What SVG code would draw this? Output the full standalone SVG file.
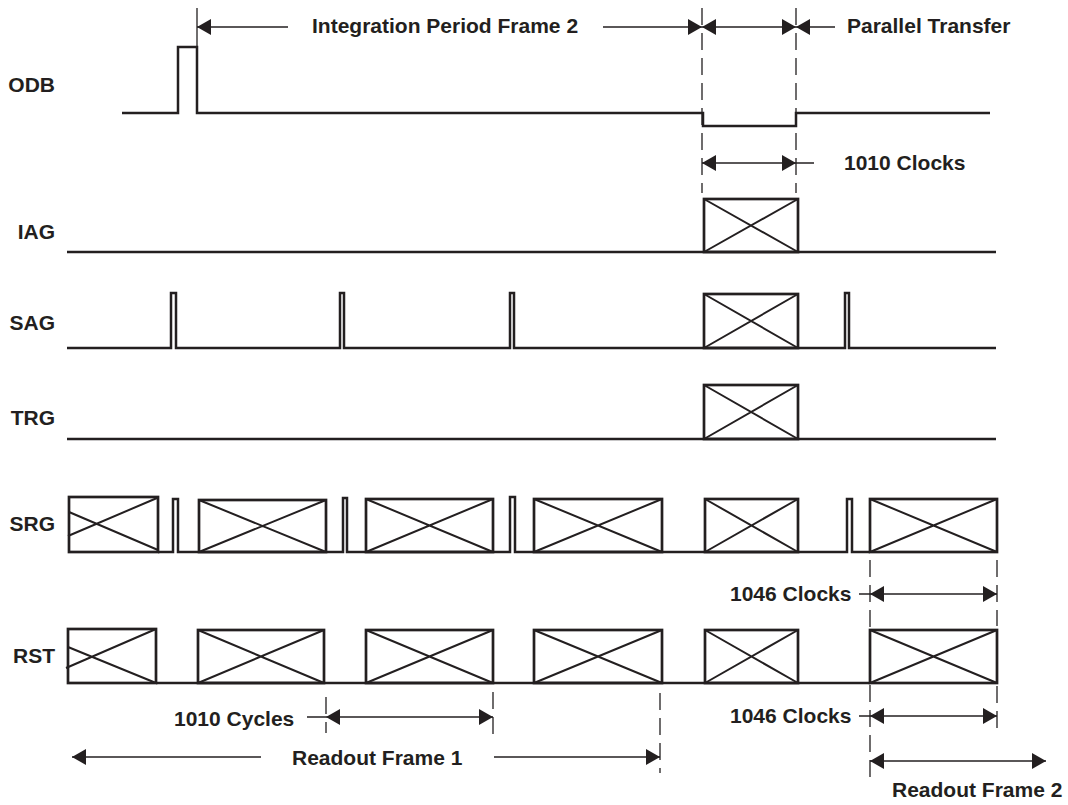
<svg xmlns="http://www.w3.org/2000/svg" xmlns:xlink="http://www.w3.org/1999/xlink" width="1068" height="805" viewBox="0 0 1068 805">
<style>
  .bg{fill:#ffffff}
  .sig{fill:none;stroke:#231f20;stroke-width:2.5;stroke-linejoin:miter}
  .box{fill:none;stroke:#231f20;stroke-width:2.7}
  .x{fill:none;stroke:#231f20;stroke-width:2}
  .dim{fill:none;stroke:#231f20;stroke-width:1.3}
  .dash{fill:none;stroke:#231f20;stroke-width:1.3;stroke-dasharray:17 8}
  .lbl{font-family:"Liberation Sans",Arial,sans-serif;font-weight:bold;font-size:21px;fill:#231f20}
  .ah{fill:#231f20}
</style>
<defs>
  <path id="ar" d="M0,0 L-14,-8 L-14,8 Z"/>
  <path id="al" d="M0,0 L14,-8 L14,8 Z"/>
</defs>
<rect class="bg" x="0" y="0" width="1068" height="805"/>

<g id="connectors">
  <!-- top dimension -->
  <line class="dim" x1="197" y1="8" x2="197" y2="47"/>
  <line class="dash" x1="702" y1="8" x2="702" y2="193"/>
  <line class="dash" x1="796" y1="8" x2="796" y2="193"/>
  <line class="dim" x1="197" y1="27" x2="288" y2="27"/>
  <line class="dim" x1="603" y1="27" x2="835" y2="27"/>
  <use href="#al" class="ah" x="197" y="27"/>
  <use href="#ar" class="ah" x="702" y="27"/>
  <use href="#al" class="ah" x="702" y="27"/>
  <use href="#ar" class="ah" x="796" y="27"/>
  <use href="#al" class="ah" x="796" y="27"/>
  <!-- 1010 clocks -->
  <line class="dim" x1="702" y1="163" x2="814" y2="163"/>
  <use href="#al" class="ah" x="702" y="163"/>
  <use href="#ar" class="ah" x="796" y="163"/>
  <!-- 1046 clocks -->
  <line class="dash" x1="870" y1="560" x2="870" y2="782"/>
  <line class="dash" x1="997" y1="560" x2="997" y2="626"/>
  <line class="dash" x1="997" y1="686" x2="997" y2="733"/>
  <line class="dim" x1="859" y1="594" x2="997" y2="594"/>
  <use href="#al" class="ah" x="870" y="594"/>
  <use href="#ar" class="ah" x="997" y="594"/>
  <line class="dim" x1="859" y1="716" x2="997" y2="716"/>
  <use href="#al" class="ah" x="870" y="716"/>
  <use href="#ar" class="ah" x="997" y="716"/>
  <!-- Readout frame 2 -->
  <line class="dim" x1="870" y1="761" x2="1046" y2="761"/>
  <use href="#al" class="ah" x="870" y="761"/>
  <use href="#ar" class="ah" x="1046" y="761"/>
  <!-- 1010 cycles -->
  <line class="dash" x1="326" y1="697" x2="326" y2="733"/>
  <line class="dash" x1="493" y1="692" x2="493" y2="734"/>
  <line class="dim" x1="307" y1="717" x2="493" y2="717"/>
  <use href="#al" class="ah" x="326" y="717"/>
  <use href="#ar" class="ah" x="493" y="717"/>
  <!-- Readout frame 1 -->
  <line class="dash" x1="660" y1="693" x2="660" y2="773"/>
  <line class="dim" x1="72" y1="757" x2="261" y2="757"/>
  <line class="dim" x1="494" y1="757" x2="660" y2="757"/>
  <use href="#al" class="ah" x="72" y="757"/>
  <use href="#ar" class="ah" x="660" y="757"/>
</g>

<g id="annotations">
  <text class="lbl" x="312" y="33">Integration Period Frame 2</text>
  <text class="lbl" x="847" y="33">Parallel Transfer</text>
  <text class="lbl" x="844" y="170">1010 Clocks</text>
  <text class="lbl" x="730" y="601">1046 Clocks</text>
  <text class="lbl" x="730" y="723">1046 Clocks</text>
  <text class="lbl" x="174" y="726">1010 Cycles</text>
  <text class="lbl" x="292" y="765">Readout Frame 1</text>
  <text class="lbl" x="892" y="797">Readout Frame 2</text>
</g>

<g id="ODB">
  <text class="lbl" x="55" y="92" text-anchor="end">ODB</text>
  <path class="sig" d="M122,113 H178 V47 H197 V113 H703 V126 H796 V113 H990"/>
</g>

<g id="IAG">
  <text class="lbl" x="55" y="239" text-anchor="end">IAG</text>
  <path class="sig" d="M67,252 H996"/>
  <rect class="box" x="704" y="199" width="94" height="53"/>
  <path class="x" d="M704,199 L798,252 M704,252 L798,199"/>
</g>

<g id="SAG">
  <text class="lbl" x="55" y="330" text-anchor="end">SAG</text>
  <path class="sig" d="M67,348 H171 V293 H176 V348 H340 V293 H344 V348 H510 V293 H514 V348 H845 V293 H849 V348 H996"/>
  <rect class="box" x="704" y="294" width="94" height="54"/>
  <path class="x" d="M704,294 L798,348 M704,348 L798,294"/>
</g>

<g id="TRG">
  <text class="lbl" x="55" y="425" text-anchor="end">TRG</text>
  <path class="sig" d="M67,439 H996"/>
  <rect class="box" x="704" y="385" width="94" height="54"/>
  <path class="x" d="M704,385 L798,439 M704,439 L798,385"/>
</g>

<g id="SRG">
  <text class="lbl" x="55" y="531" text-anchor="end">SRG</text>
  <path class="sig" d="M158,552 H173 V499 H178 V552 H343 V498 H347 V552 H510 V497 H515 V552 H847 V499 H852 V552 H870"/>
  <rect class="box" x="69" y="497" width="89" height="55"/>
  <path class="x" d="M69,512 L158,550 M68,536 L157,498"/>
  <rect class="box" x="199" y="500" width="127" height="52"/>
  <path class="x" d="M199,500 L326,552 M199,552 L326,500"/>
  <rect class="box" x="366" y="499" width="127" height="53"/>
  <path class="x" d="M366,499 L493,552 M366,552 L493,499"/>
  <rect class="box" x="534" y="499" width="128" height="53"/>
  <path class="x" d="M534,499 L662,552 M534,552 L662,499"/>
  <rect class="box" x="705" y="499" width="93" height="53"/>
  <path class="x" d="M705,499 L798,552 M705,552 L798,499"/>
  <rect class="box" x="870" y="499" width="127" height="53"/>
  <path class="x" d="M870,499 L997,552 M870,552 L997,499"/>
</g>

<g id="RST">
  <text class="lbl" x="55" y="663" text-anchor="end">RST</text>
  <path class="sig" d="M156,683 H870"/>
  <rect class="box" x="68" y="629" width="88" height="54"/>
  <path class="x" d="M68,647 L156,683 M66,668 L156,629"/>
  <rect class="box" x="198" y="630" width="126" height="53"/>
  <path class="x" d="M198,630 L324,683 M198,683 L324,630"/>
  <rect class="box" x="366" y="630" width="127" height="53"/>
  <path class="x" d="M366,630 L493,683 M366,683 L493,630"/>
  <rect class="box" x="534" y="630" width="128" height="53"/>
  <path class="x" d="M534,630 L662,683 M534,683 L662,630"/>
  <rect class="box" x="705" y="630" width="93" height="53"/>
  <path class="x" d="M705,630 L798,683 M705,683 L798,630"/>
  <rect class="box" x="870" y="630" width="127" height="53"/>
  <path class="x" d="M870,630 L997,683 M870,683 L997,630"/>
</g>
</svg>
